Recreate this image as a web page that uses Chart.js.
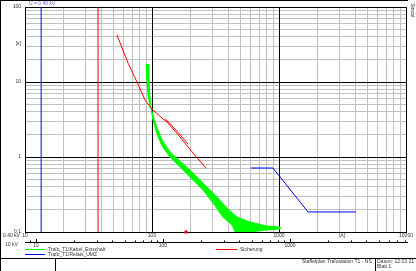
<!DOCTYPE html>
<html><head><meta charset="utf-8">
<script src="https://cdn.jsdelivr.net/npm/chart.js@4/dist/chart.umd.min.js"></script>
<style>html,body{margin:0;padding:0;background:#fff;}canvas{display:block;}</style>
</head><body>
<canvas id="c" width="416" height="271"></canvas>
<script>
// ---- tick labels ----
const xTickValues = [10, 100, 1000, 10000];
const xTickLabels = ['10', '100', '1000', '10000'];
const yTickValues = [0.1, 1, 10, 100];
const yTickLabels = ['0.1', '1', '10', '100'];
const xUnit = '[A]';
const yUnit = '[s]';
// secondary current axis (other voltage level)
const secTickValues = [10, 100, 1000];
const secTickLabels = ['10', '100', '1000'];
const secRatio = 1.22;

// ---- series ----
const seriesNames = ['Trafo_T1/Kabel_Einschalt', 'Trafo_T1/Relais_UMZ', 'Sicherung'];
// green band (upper edge, then lower edge back)
const greenX = [89.7, 91.3, 93.0, 96.4, 101.8, 109.5, 119.9, 138.6, 166.2, 199.2, 252.1, 325, 389.5, 467, 591, 804, 1018,
                1018, 776, 540, 459, 427, 362, 302, 252, 199, 166, 138.6, 119.9, 109.5, 101.8, 98.2, 96.4, 94.7, 94.7];
const greenY = [17.4, 10.63, 6.71, 4.94, 3.63, 2.44, 1.69, 1.166, 0.884, 0.671, 0.450, 0.293, 0.209, 0.158, 0.136, 0.120, 0.1166,
                0.110, 0.106, 0.098, 0.094, 0.124, 0.158, 0.2435, 0.363, 0.541, 0.736, 1.0, 1.40, 2.03, 3.11, 4.50, 6.31, 10.63, 17.4];
// blue relay curve
const relayX = [601.9, 897.3, 1692, 4039];
const relayY = [0.713, 0.713, 0.185, 0.185];
// red fuse curve
const fuseX = [53.0, 64.7, 76.2, 88.1, 101.8, 122.1, 131.3, 166.2, 210.3, 266.2];
const fuseY = [42.3, 17.9, 10.0, 5.75, 4.23, 3.21, 2.93, 1.85, 1.131, 0.713];
const fuse2X = [126.6, 154.5, 192.1];
const fuse2Y = [3.26, 2.29, 1.49];
// vertical limit lines
const redLimitX = [37.6, 37.6];
const blueLimitX = [13.4, 13.4];
const limitY = [0.1, 100];
// marker
const markerX = [185.3];
const markerY = [0.1];

const pts = (xs, ys) => xs.map((x, i) => ({x, y: ys[i]}));
const isDecade = v => Math.abs(Math.log10(v) - Math.round(Math.log10(v))) < 1e-6;
function logTicks(min, max) {
  const t = [];
  for (let e = Math.round(Math.log10(min)); e <= Math.round(Math.log10(max)); e++) {
    for (let m = 1; m <= 9; m++) {
      const v = m * Math.pow(10, e);
      if (v >= min * 0.9999 && v <= max * 1.0001) t.push({value: v});
    }
  }
  return t;
}
const FONT = 'Liberation Sans';

const majorGrid = {
  id: 'majorGrid',
  beforeDatasetsDraw(chart) {
    const ctx = chart.ctx, xs = chart.scales.x, ys = chart.scales.y, a = chart.chartArea;
    ctx.save();
    ctx.strokeStyle = '#000'; ctx.lineWidth = 1;
    xs.ticks.forEach(t => {
      if (!isDecade(t.value)) return;
      const px = Math.round(xs.getPixelForValue(t.value)) + 0.5;
      ctx.beginPath(); ctx.moveTo(px, a.top); ctx.lineTo(px, a.bottom); ctx.stroke();
    });
    ys.ticks.forEach(t => {
      if (!isDecade(t.value)) return;
      const py = Math.round(ys.getPixelForValue(t.value)) + 0.5;
      ctx.beginPath(); ctx.moveTo(a.left, py); ctx.lineTo(a.right + 1, py); ctx.stroke();
    });
    ctx.restore();
  }
};

const deco = {
  id: 'deco',
  afterDraw(chart) {
    const ctx = chart.ctx, xs = chart.scales.x, a = chart.chartArea;
    ctx.save();
    ctx.strokeStyle = '#000'; ctx.lineWidth = 1;
    const L = (x1, y1, x2, y2) => { ctx.beginPath(); ctx.moveTo(x1, y1); ctx.lineTo(x2, y2); ctx.stroke(); };
    // frame & title block
    L(0.5, 0, 0.5, 271);
    L(0, 0.5, 408, 0.5);
    L(0, 258.5, 416, 258.5);
    L(55.5, 258, 55.5, 271);
    L(375.5, 258, 375.5, 271);
    // secondary axis
    const yA = 242.5;
    L(a.left, yA, 408, yA);
    ctx.font = '5px "' + FONT + '"';
    ctx.fillStyle = '#333';
    ctx.textBaseline = 'middle';
    for (let e = 0; e <= 3; e++) {
      for (let m = 1; m <= 9; m++) {
        const v = m * Math.pow(10, e);
        const px = Math.round(xs.getPixelForValue(v * secRatio)) + 0.5;
        if (px < a.left || px > 408) continue;
        L(px, yA, px, m === 1 ? yA - 3.5 : yA - 2);
      }
    }
    ctx.textAlign = 'center';
    secTickValues.forEach((v, i) => {
      ctx.fillText(secTickLabels[i], xs.getPixelForValue(v * secRatio), 246);
    });
    // axis units / level labels
    ctx.fillText(xUnit, 342, 236);
    ctx.textAlign = 'right';
    ctx.fillText(yUnit, 21, 44);
    ctx.textAlign = 'left';
    ctx.fillText('0.40 kV', 3, 236);
    ctx.fillText('10 kV', 5, 245);
    // legend
    const leg = [[25, 45, 249.5, '#00ff00', seriesNames[0]], [25, 45, 254.5, '#0000ff', seriesNames[1]], [216, 237, 249.5, '#ff0000', seriesNames[2]]];
    leg.forEach(([x1, x2, y, c, t]) => {
      ctx.strokeStyle = c; L(x1, y, x2, y);
      ctx.fillStyle = '#333'; ctx.fillText(t, x2 + 3, y);
    });
    // title block text
    ctx.fillText('Staffelplan Trafostation T1 - NS', 302, 262);
    ctx.fillText('Datum: 12.03.21', 377, 262);
    ctx.fillText('Blatt 1', 377, 267);
    // top texts
    ctx.fillStyle = '#6a5acd';
    ctx.fillText('U = 0.40 kV', 29, 4);
    ctx.translate(412, 10);
    ctx.rotate(Math.PI / 2);
    ctx.fillStyle = '#1a1a5a';
    ctx.textAlign = 'center';
    ctx.fillText('Sincal', 0, 0);
    ctx.restore();
  }
};

const lineDs = (data, color, extra) => Object.assign({
  data, borderColor: color, backgroundColor: color, borderWidth: 1, pointRadius: 0,
  tension: 0, fill: false, showLine: true
}, extra || {});

new Chart(document.getElementById('c'), {
  type: 'line',
  data: {
    datasets: [
      lineDs(pts(markerX, markerY), '#ff0000', {showLine: false, pointRadius: 1.5, pointStyle: 'rect', clip: false}),
      lineDs(pts(fuseX, fuseY), '#ff0000'),
      lineDs(pts(fuse2X, fuse2Y), '#ff0000'),
      lineDs(pts(relayX, relayY), '#0000ff'),
      lineDs(pts(greenX, greenY), '#00ff00', {fill: 'shape'}),
      lineDs(pts(redLimitX, limitY), '#ff0000'),
      lineDs(pts(blueLimitX, limitY), '#0000ff')
    ]
  },
  options: {
    responsive: false,
    animation: false,
    devicePixelRatio: 1,
    layout: {padding: {top: 7, right: 10, left: 0, bottom: 0}},
    plugins: {legend: {display: false}, tooltip: {enabled: false}},
    scales: {
      x: {
        type: 'logarithmic', min: 10, max: 10000, position: 'bottom',
        afterBuildTicks: s => { s.ticks = logTicks(10, 10000); },
        afterFit: s => { s.height = 39; },
        border: {color: '#000', width: 1},
        grid: {color: c => (c.tick && isDecade(c.tick.value)) ? '#000' : '#c0c0c0', lineWidth: 1, drawTicks: false},
        ticks: {
          autoSkip: false, maxRotation: 0, padding: 1, color: '#333',
          font: {family: FONT, size: 5},
          callback: v => { const i = xTickValues.findIndex(t => Math.abs(t - v) < 1e-6 * t); return i >= 0 ? xTickLabels[i] : ''; }
        }
      },
      y: {
        type: 'logarithmic', min: 0.1, max: 100, position: 'left',
        afterBuildTicks: s => { s.ticks = logTicks(0.1, 100); },
        afterFit: s => { s.width = 25; },
        border: {color: '#000', width: 1},
        grid: {color: c => (c.tick && isDecade(c.tick.value)) ? '#000' : '#c0c0c0', lineWidth: 1, drawTicks: false},
        ticks: {
          autoSkip: false, padding: 4, color: '#333',
          font: {family: FONT, size: 5},
          callback: v => { const i = yTickValues.findIndex(t => Math.abs(t - v) < 1e-6 * t); return i >= 0 ? yTickLabels[i] : ''; }
        }
      }
    }
  },
  plugins: [majorGrid, deco]
});
</script>
</body></html>
